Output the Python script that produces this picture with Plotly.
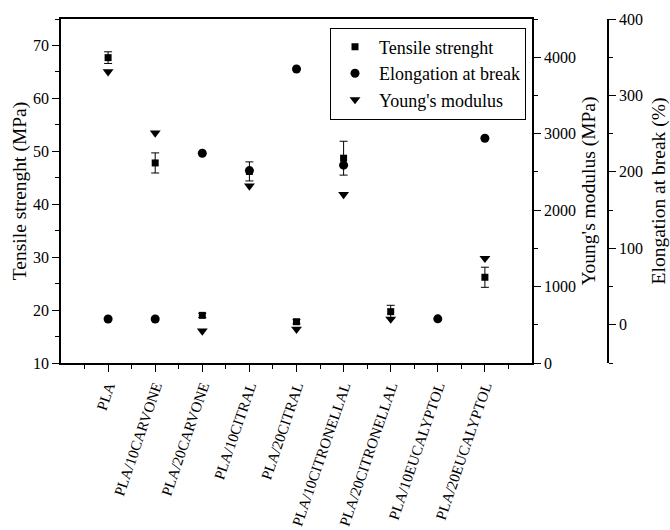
import plotly.graph_objects as go

# Samples along the x axis
samples = [
    "PLA", "PLA/10CARVONE", "PLA/20CARVONE", "PLA/10CITRAL", "PLA/20CITRAL",
    "PLA/10CITRONELLAL", "PLA/20CITRONELLAL", "PLA/10EUCALYPTOL", "PLA/20EUCALYPTOL",
]

# Tensile strength (MPa) with standard deviation
tensile = [67.7, 47.8, 19.0, 46.2, 17.8, 48.7, 19.7, None, 26.2]
tensile_err = [1.1, 1.9, 0.4, 1.8, 0.4, 3.2, 1.2, None, 1.9]

# Elongation at break (%)
elongation = [7.5, 7.5, 224.4, 201.7, 334.6, 208.8, None, 7.8, 244.0]

# Young's modulus (MPa)
youngs = [3810, 3010, 420, 2316, 443, 2205, 575, None, 1370]

x_idx = list(range(len(samples)))

FONT = "Liberation Serif, Times New Roman, serif"
BLACK = "#000000"

fig = go.Figure()

fig.add_trace(go.Scatter(
    x=x_idx, y=tensile, mode="markers", name="Tensile strenght",
    marker=dict(symbol="square", size=7, color=BLACK),
    error_y=dict(type="data", array=tensile_err, visible=True,
                 color=BLACK, thickness=1, width=4),
    yaxis="y",
))
fig.add_trace(go.Scatter(
    x=x_idx, y=elongation, mode="markers", name="Elongation at break",
    marker=dict(symbol="circle", size=9, color=BLACK),
    yaxis="y3",
))
fig.add_trace(go.Scatter(
    x=x_idx, y=youngs, mode="markers", name="Young's modulus",
    marker=dict(symbol="triangle-down", size=9.5, color=BLACK),
    yaxis="y2",
))

axis_common = dict(
    showline=True, linecolor=BLACK, linewidth=1.5,
    ticks="outside", tickcolor=BLACK, tickwidth=1.2, ticklen=7,
    showgrid=False, zeroline=False, automargin=False,
    tickfont=dict(family=FONT, size=16, color=BLACK),
)

plot_w = 670 - 61 - 62
x_end = (532 - 61) / plot_w

fig.update_layout(
    width=670, height=530,
    margin=dict(l=61, r=62, t=19, b=167),
    paper_bgcolor="white", plot_bgcolor="white",
    font=dict(family=FONT, color=BLACK),
    showlegend=True,
    legend=dict(
        x=(526 - 61) / plot_w, xanchor="right",
        y=0.975, yanchor="top",
        bgcolor="white", bordercolor=BLACK, borderwidth=1,
        font=dict(family=FONT, size=18, color=BLACK),
        itemwidth=38,
        tracegroupgap=0,
    ),
    xaxis=dict(
        axis_common,
        domain=[0, x_end],
        range=[-1, 9],
        tickmode="array", tickvals=x_idx, ticktext=samples,
        tickangle=-71,
        tickfont=dict(family=FONT, size=15, color=BLACK),
        mirror=True,
        minor=dict(tickvals=[i - 0.5 for i in range(10)],
                   ticks="outside", ticklen=4, tickcolor=BLACK, tickwidth=1.2),
    ),
    yaxis=dict(
        axis_common,
        range=[10, 75], dtick=10, tick0=10,
        title=dict(text="Tensile strenght (MPa)", standoff=1,
                   font=dict(family=FONT, size=19.5, color=BLACK)),
        minor=dict(dtick=5, ticks="outside", ticklen=4, tickcolor=BLACK, tickwidth=1.2),
    ),
    yaxis2=dict(
        axis_common,
        overlaying="y", side="right", anchor="x",
        range=[0, 4500], dtick=1000, tick0=0,
        title=dict(text="Young's modulus (MPa)", standoff=6,
                   font=dict(family=FONT, size=19.5, color=BLACK)),
        minor=dict(dtick=500, ticks="outside", ticklen=4, tickcolor=BLACK, tickwidth=1.2),
    ),
    yaxis3=dict(
        axis_common,
        overlaying="y", side="right", anchor="free", position=1,
        range=[-50, 400], dtick=100, tick0=0,
        title=dict(text="Elongation at break (%)", standoff=8,
                   font=dict(family=FONT, size=19.5, color=BLACK)),
        minor=dict(dtick=50, ticks="outside", ticklen=4, tickcolor=BLACK, tickwidth=1.2),
    ),
)

fig.write_html("out.html")
